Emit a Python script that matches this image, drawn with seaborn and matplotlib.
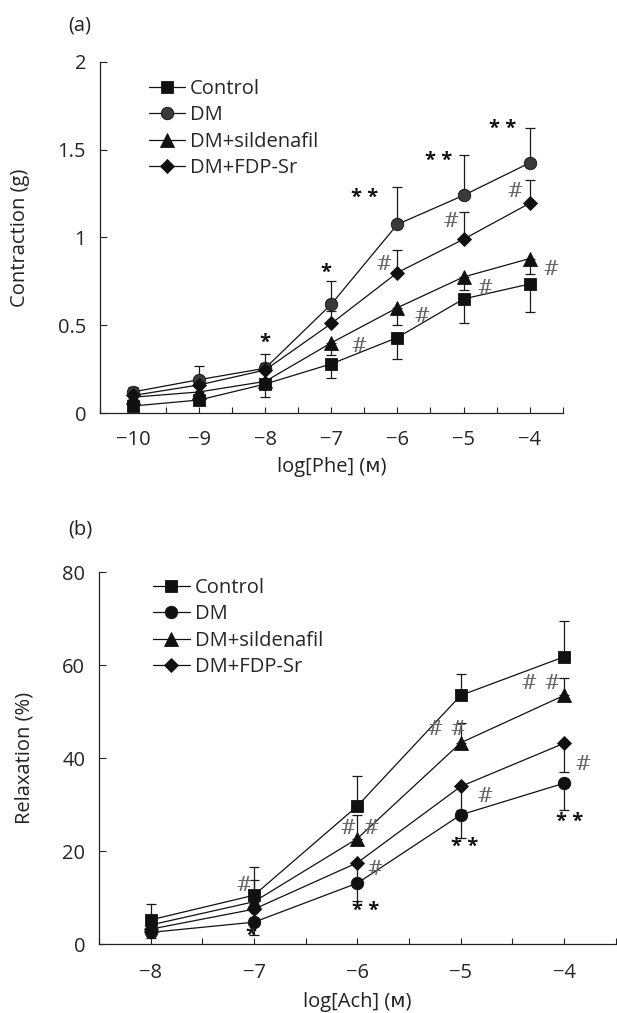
import matplotlib

matplotlib.use("Agg")
import matplotlib.pyplot as plt
import pandas as pd
import seaborn as sns

groups = ["Control", "DM", "DM+sildenafil", "DM+FDP-Sr"]

# panel (a): contraction to phenylephrine
phe_logc = [-10, -9, -8, -7, -6, -5, -4]
phe_control = [0.04, 0.074, 0.165, 0.28, 0.43, 0.65, 0.735]
phe_dm = [0.12, 0.19, 0.255, 0.62, 1.075, 1.24, 1.425]
phe_sild = [0.09, 0.12, 0.18, 0.40, 0.60, 0.775, 0.88]
phe_fdp = [0.10, 0.16, 0.245, 0.51, 0.80, 0.99, 1.195]
phe_control_err = [0.02, 0.03, 0.075, 0.08, 0.12, 0.135, 0.16]
phe_dm_err = [0.03, 0.075, 0.08, 0.13, 0.21, 0.23, 0.2]
phe_sild_err = [0.02, 0.03, 0.04, 0.07, 0.1, 0.075, 0.09]
phe_fdp_err = [0.02, 0.03, 0.04, 0.07, 0.13, 0.155, 0.135]

# panel (b): relaxation to acetylcholine
ach_logc = [-8, -7, -6, -5, -4]
ach_control = [5.2, 10.5, 29.7, 53.5, 61.8]
ach_dm = [2.5, 4.7, 13.1, 27.8, 34.6]
ach_sild = [4.1, 9.1, 22.7, 43.3, 53.5]
ach_fdp = [3.2, 7.5, 17.5, 33.9, 43.2]
ach_control_err = [3.5, 6.1, 6.5, 4.7, 7.8]
ach_dm_err = [1.2, 2.7, 3.8, 4.9, 5.8]
ach_sild_err = [1.5, 4.6, 5.0, 4.2, 3.8]
ach_fdp_err = [1.0, 2.0, 4.0, 5.0, 6.1]

# error bar direction per group (+1 up, -1 down)
phe_dirs = {"Control": -1, "DM": 1, "DM+sildenafil": -1, "DM+FDP-Sr": 1}
ach_dirs = {"Control": 1, "DM": -1, "DM+sildenafil": 1, "DM+FDP-Sr": -1}

# significance marks: (x, y, text)
phe_stars = [(-8, 0.40, "*"), (-7.08, 0.80, "*"), (-6.5, 1.225, "* *"),
             (-5.37, 1.435, "* *"), (-4.41, 1.62, "* *")]
phe_hash = [(-6.58, 0.38, "#"), (-6.2, 0.845, "#"), (-5.63, 0.55, "#"),
            (-5.19, 1.09, "#"), (-4.67, 0.71, "#"), (-4.23, 1.26, "#"),
            (-3.68, 0.815, "#")]
ach_stars = [(-7.03, 1.7, "*"), (-5.92, 7.1, "* *"), (-4.96, 20.8, "* *"),
             (-3.95, 26.2, "* *")]
ach_hash = [(-7.1, 12.6, "#"), (-5.98, 24.9, "# #"), (-5.83, 16.1, "#"),
            (-5.13, 46.2, "# #"), (-4.77, 31.8, "#"), (-4.22, 56.1, "# #"),
            (-3.82, 38.7, "#")]

markers = {"Control": "s", "DM": "o", "DM+sildenafil": "^", "DM+FDP-Sr": "D"}
FS = 14.5


def long_frame(logc, series, errs):
    rows = []
    for g, vals, er in zip(groups, series, errs):
        for x, v, e in zip(logc, vals, er):
            rows.append({"logc": x, "value": v, "err": e, "group": g})
    return pd.DataFrame(rows)


def draw_panel(ax, df, dirs, dm_color, stars, hashes):
    for g in groups:
        sub = df[df["group"] == g]
        zero = sub["err"] * 0
        lo = sub["err"] if dirs[g] < 0 else zero
        hi = sub["err"] if dirs[g] > 0 else zero
        ax.errorbar(sub["logc"], sub["value"], yerr=[lo, hi], fmt="none",
                    ecolor="#1a1a1a", elinewidth=0.9, capsize=3.5, capthick=0.9,
                    zorder=1)
    palette = {"Control": "#111111", "DM": dm_color,
               "DM+sildenafil": "#111111", "DM+FDP-Sr": "#111111"}
    sns.lineplot(data=df, x="logc", y="value", hue="group", style="group",
                 hue_order=groups, style_order=groups, palette=palette,
                 markers=markers, dashes=False, markersize=8.5, linewidth=0.9,
                 markeredgecolor="#111111", markeredgewidth=0.6, ax=ax, zorder=3)
    for ln in ax.lines:
        if ln.get_marker() == "D":
            ln.set_markersize(7)
        if ln.get_marker() == "^":
            ln.set_markersize(9.5)
        if ln.get_marker() == "s":
            ln.set_markersize(8.5)
        if ln.get_marker() == "o":
            ln.set_markersize(9)
        ln.set_color("#111111")
        ln.set_markerfacecolor(dm_color if ln.get_marker() == "o" else "#111111")
    for x, y, t in stars:
        ax.text(x, y, t, ha="center", va="center", fontsize=FS, color="#111111",
                fontweight="bold")
    for x, y, t in hashes:
        ax.text(x, y, t, ha="center", va="center", fontsize=FS, color="#666666",
                family=["DejaVu Serif"], fontweight="light")
    sns.despine(ax=ax)
    ax.spines["left"].set_linewidth(0.9)
    ax.spines["bottom"].set_linewidth(0.9)
    ax.spines["left"].set_color("#222222")
    ax.spines["bottom"].set_color("#222222")
    ax.tick_params(axis="both", which="both", direction="in", labelsize=FS,
                   color="#222222", width=0.8)
    ax.tick_params(axis="x", length=4.5, pad=12)
    ax.tick_params(axis="y", length=5, pad=10)


sns.set_theme(style="ticks")
plt.rcParams["font.family"] = ["Open Sans", "DejaVu Sans"]
plt.rcParams["axes.unicode_minus"] = True

fig = plt.figure(figsize=(6.17, 10.13), dpi=100)
ax1 = fig.add_axes([0.162, 0.5923, 0.750, 0.3465])
ax2 = fig.add_axes([0.1605, 0.0681, 0.8375, 0.367])

df_a = long_frame(phe_logc, [phe_control, phe_dm, phe_sild, phe_fdp],
                  [phe_control_err, phe_dm_err, phe_sild_err, phe_fdp_err])
df_b = long_frame(ach_logc, [ach_control, ach_dm, ach_sild, ach_fdp],
                  [ach_control_err, ach_dm_err, ach_sild_err, ach_fdp_err])

draw_panel(ax1, df_a, phe_dirs, "#3a3a3a", phe_stars, phe_hash)
draw_panel(ax2, df_b, ach_dirs, "#111111", ach_stars, ach_hash)

ax1.set_xlim(-10.5, -3.5)
ax1.set_ylim(0, 2)
ax1.set_xticks([x / 2 for x in range(-21, -6)], minor=True)
ax1.set_xticks(phe_logc)
ax1.set_yticks([0, 0.5, 1, 1.5, 2])
ax1.set_yticklabels(["0", "0.5", "1", "1.5", "2"])
ax1.set_xlabel("log[Phe] (\u1d0d)", fontsize=FS, labelpad=5, color="#222222")
ax1.set_ylabel("Contraction (g)", fontsize=FS, labelpad=20, color="#222222")

ax2.set_xlim(-8.5, -3.5)
ax2.set_ylim(0, 80)
ax2.set_xticks([x / 2 for x in range(-17, -6)], minor=True)
ax2.set_xticks(ach_logc)
ax2.set_yticks([0, 20, 40, 60, 80])
ax2.tick_params(axis="x", pad=14)
ax2.set_xlabel("log[Ach] (\u1d0d)", fontsize=FS, labelpad=6, color="#222222")
ax2.set_ylabel("Relaxation (%)", fontsize=FS, labelpad=20, color="#222222")

for ax, anchor in [(ax1, (0.105, 0.952)), (ax2, (0.105, 0.985))]:
    h, l = ax.get_legend_handles_labels()
    ax.legend(h, l, loc="upper left", bbox_to_anchor=anchor, frameon=False,
              fontsize=FS, borderpad=0, borderaxespad=0, labelspacing=0.32,
              handlelength=1.8, handletextpad=0.25)

fig.text(80 / 617, 1 - 25 / 1013, "(a)", ha="center", va="center", fontsize=FS,
         color="#222222")
fig.text(80 / 617, 1 - 530 / 1013, "(b)", ha="center", va="center", fontsize=FS,
         color="#222222")

fig.savefig("out.png", dpi=100)
